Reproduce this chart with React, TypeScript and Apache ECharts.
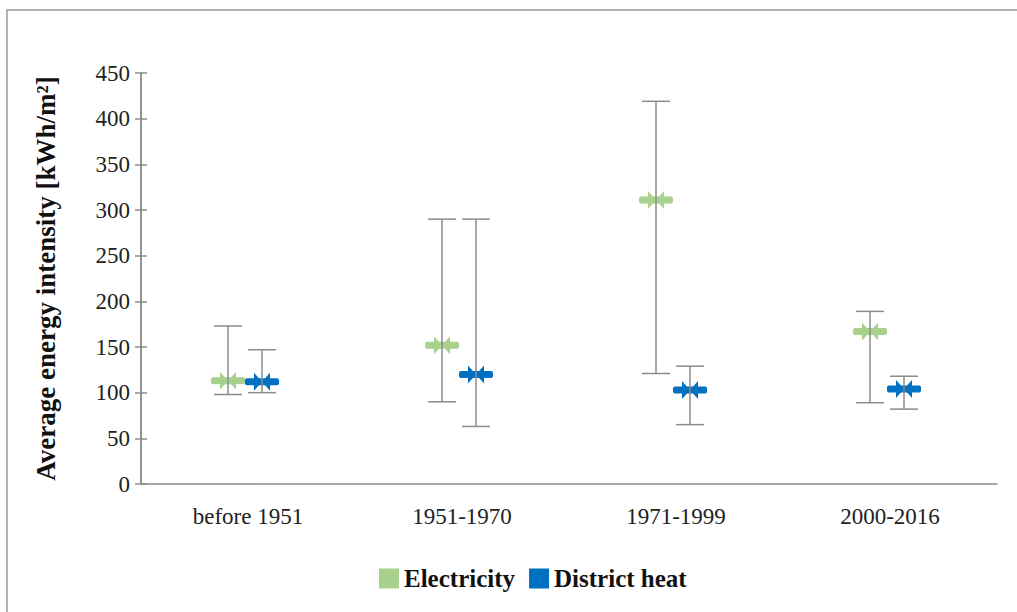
import React, { useEffect, useRef } from "react";
import * as echarts from "echarts";

const categories = ["before 1951", "1951-1970", "1971-1999", "2000-2016"];
// [min, max, average] per construction period
const electricityMin = [98, 90, 121, 89];
const electricityMax = [173, 290, 419, 189];
const electricityAvg = [113, 152, 311, 167];
const heatMin = [100, 63, 65, 82];
const heatMax = [147, 290, 129, 118];
const heatAvg = [112, 120, 103, 104];
const yTicks = { min: 0, max: 450, interval: 50 };

const FONT = "'Liberation Serif', 'Times New Roman', serif";
const WHISKER = "#8c8c8c";

function rows(mins: number[], maxs: number[], avgs: number[]) {
  return categories.map((_, i) => [i, mins[i], maxs[i], avgs[i]]);
}

function makeRenderer(offset: number, color: string) {
  return (params: any, api: any) => {
    const i = api.value(0);
    const lo = api.coord([i, api.value(1)]);
    const hi = api.coord([i, api.value(2)]);
    const av = api.coord([i, api.value(3)]);
    const x = av[0] + offset;
    const y = av[1];
    const cap = 14;
    const lineStyle = { stroke: WHISKER, lineWidth: 1.5 };
    return {
      type: "group",
      children: [
        { type: "rect", shape: { x: x - 17, y: y - 3.5, width: 34, height: 7, r: 2 }, style: { fill: color } },
        { type: "polygon", shape: { points: [[x - 8, y - 9], [x - 8, y + 9], [x, y]] }, style: { fill: color } },
        { type: "polygon", shape: { points: [[x + 8, y - 9], [x + 8, y + 9], [x, y]] }, style: { fill: color } },
        { type: "line", shape: { x1: x, y1: lo[1], x2: x, y2: hi[1] }, style: lineStyle },
        { type: "line", shape: { x1: x - cap, y1: lo[1], x2: x + cap, y2: lo[1] }, style: lineStyle },
        { type: "line", shape: { x1: x - cap, y1: hi[1], x2: x + cap, y2: hi[1] }, style: lineStyle },
      ],
    };
  };
}

export default function App() {
  const ref = useRef<HTMLDivElement>(null);
  useEffect(() => {
    document.body.style.margin = "0";
    const chart = echarts.init(ref.current!, null, { renderer: "svg" });
    const yBase = {
      type: "value",
      min: yTicks.min,
      max: yTicks.max,
      interval: yTicks.interval,
      axisLine: { show: true, lineStyle: { color: WHISKER, width: 1.5 } },
      splitLine: { show: false },
    };
    chart.setOption({
      animation: false,
      textStyle: { fontFamily: FONT },
      graphic: [
        {
          type: "rect",
          shape: { x: 7, y: 10, width: 1030, height: 640 },
          style: { fill: "none", stroke: "#999", lineWidth: 1.5 },
          silent: true,
        },
      ],
      grid: { left: 141, right: 20, top: 73, bottom: 128 },
      legend: {
        left: 374,
        top: 561,
        icon: "rect",
        itemWidth: 20,
        itemHeight: 20,
        itemGap: 14,
        textStyle: { fontFamily: FONT, fontWeight: "bold", fontSize: 25, color: "#111" },
        data: ["Electricity", "District heat"],
      },
      xAxis: {
        type: "category",
        data: categories,
        axisLine: { lineStyle: { color: WHISKER, width: 1.5 } },
        axisTick: { show: false },
        axisLabel: { color: "#222", fontSize: 23, fontFamily: FONT, margin: 21 },
      },
      yAxis: [
        {
          ...yBase,
          name: "Average energy intensity [kWh/m²]",
          nameLocation: "middle",
          nameGap: 82,
          nameTextStyle: { fontFamily: FONT, fontWeight: "bold", fontSize: 27, color: "#111" },
          axisTick: { show: true, length: 6, lineStyle: { color: WHISKER, width: 1.5 } },
          axisLabel: { color: "#222", fontSize: 23, fontFamily: FONT, margin: 11 },
        },
        {
          ...yBase,
          position: "left",
          axisTick: { show: true, inside: true, length: 6, lineStyle: { color: WHISKER, width: 1.5 } },
          axisLabel: { show: false },
        },
      ],
      series: [
        {
          name: "Electricity",
          type: "custom",
          itemStyle: { color: "#a9d18e" },
          encode: { x: 0, y: [1, 2, 3] },
          data: rows(electricityMin, electricityMax, electricityAvg),
          renderItem: makeRenderer(-20, "#a9d18e"),
        },
        {
          name: "District heat",
          type: "custom",
          itemStyle: { color: "#0070c0" },
          encode: { x: 0, y: [1, 2, 3] },
          data: rows(heatMin, heatMax, heatAvg),
          renderItem: makeRenderer(14, "#0070c0"),
        },
      ],
    });
    return () => chart.dispose();
  }, []);
  return <div ref={ref} style={{ width: 1017, height: 612 }} />;
}
